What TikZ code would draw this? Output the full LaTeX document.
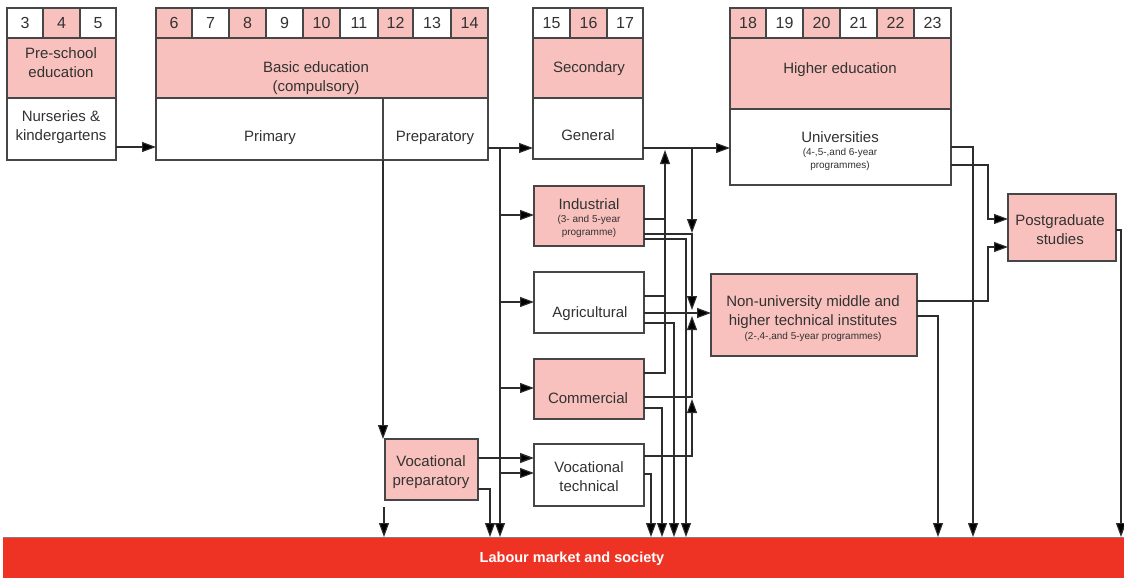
\documentclass[tikz,border=0pt]{standalone}
\usepackage{fontspec}
\setmainfont{Liberation Sans}
\usetikzlibrary{arrows.meta}
\definecolor{pk}{RGB}{249,193,189}
\definecolor{bd}{RGB}{70,70,70}
\definecolor{lm}{RGB}{238,50,36}
\definecolor{wirec}{RGB}{45,45,45}
\definecolor{tc}{RGB}{50,50,50}
\newcommand\bx[6]{\node[#6, anchor=north west, minimum width={#4-#2}, minimum height={#5-#3}] (#1) at (#2,#3) {};}
\begin{document}
\begin{tikzpicture}[x=1pt,y=-1pt,
  box/.style={draw=bd, line width=1.3pt, outer sep=0pt, inner sep=0pt},
  pbox/.style={box, fill=pk},
  wbox/.style={box, fill=white},
  txt/.style={align=center, font=\fontsize{15}{19}\selectfont, text=tc, inner sep=0pt},
  sml/.style={align=center, font=\fontsize{10}{13}\selectfont, text=tc, inner sep=0pt},
  num/.style={font=\fontsize{16}{19}\selectfont, text=tc, inner sep=0pt},
  arr/.style={draw=wirec, line width=1.1pt, -{Triangle[length=14pt,width=10pt,fill=black]}},
  wire/.style={draw=wirec, line width=1.1pt},
]
\useasboundingbox (0,0) rectangle (1124,578);
\fill[white] (0,0) rectangle (1124,578);

% age cells
\foreach \xa/\xb/\n/\f in {7/43/3/white,43/80/4/pk,80/116/5/white,156/192/6/pk,192/229/7/white,229/266/8/pk,266/303/9/white,303/340/10/pk,340/378/11/white,378/413/12/pk,413/451/13/white,451/488/14/pk,533/570/15/white,570/607/16/pk,607/643/17/white,730/766/18/pk,766/803/19/white,803/840/20/pk,840/877/21/white,877/914/22/pk,914/951/23/white}{
  \draw[draw=bd, line width=1.3pt, fill=\f] (\xa,8) rectangle (\xb,38);
  \node[num] (c\n) at ({(\xa+\xb)/2},23) {\n};
}

% boxes
\bx{psh}{7}{38}{116}{98}{pbox}
\bx{nurs}{7}{98}{116}{160}{wbox}
\bx{bas}{156}{38}{488}{98}{pbox}
\bx{prim}{156}{98}{383}{160}{wbox}
\bx{prep}{383}{98}{488}{160}{wbox}
\bx{sec}{533}{38}{643}{98}{pbox}
\bx{gen}{533}{98}{643}{159}{wbox}
\bx{high}{730}{38}{951}{109}{pbox}
\bx{univ}{730}{109}{951}{185}{wbox}
\bx{ind}{534}{186}{644}{246}{pbox}
\bx{agr}{534}{272}{644}{333}{wbox}
\bx{com}{534}{359}{644}{419}{pbox}
\bx{vt}{534}{444}{644}{506}{wbox}
\bx{vp}{385}{439}{478}{500}{pbox}
\bx{nu}{711}{274}{917}{356}{pbox}
\bx{pg}{1008}{194}{1116}{261}{pbox}
\node[fill=lm, anchor=north west, minimum width=1121, minimum height=41, inner sep=0pt, outer sep=0pt] (lab) at (3,537) {};
\draw[gray, line width=0.8pt] (lab.north west) -- (lab.north east);

% texts
\node[txt] (t-psh) at (61,63) {Pre-school\\education};
\node[txt] (t-nurs) at (61,127) {Nurseries \&\\kindergartens};
\node[txt] (t-bas) at (316,78) {Basic education\\(compulsory)};
\node[txt] (t-prim) at (270,138) {Primary};
\node[txt] (t-prep) at (435,138) {Preparatory};
\node[txt] (t-sec) at (589,69) {Secondary};
\node[txt] (t-gen) at (588,135) {General};
\node[txt] (t-high) at (840,70) {Higher education};
\node[txt] (t-univ) at (840,137) {Universities};
\node[sml] (s-univ) at (840,159) {(4-,5-,and 6-year\\programmes)};
\node[txt] (t-ind) at (589,204) {Industrial};
\node[sml] (s-ind) at (589,226) {(3- and 5-year\\programme)};
\node[txt] (t-agr) at (590,314) {Agricultural};
\node[txt] (t-com) at (588,398) {Commercial};
\node[txt] (t-vt) at (589,477) {Vocational\\technical};
\node[txt] (t-vp) at (431,472) {Vocational\\preparatory};
\node[txt] (t-nu) at (813,312) {Non-university middle and\\higher technical institutes};
\node[sml] (s-nu) at (813,337) {(2-,4-,and 5-year programmes)};
\node[txt] (t-pg) at (1060,230) {Postgraduate\\studies};
\node[font=\fontsize{14.5}{17}\selectfont\bfseries, text=white, inner sep=0pt] (t-lab) at (572,559) {Labour market and society};

% connectors
\draw[arr] (nurs.east |- 0,147) -- (prim.west |- 0,147);
\draw[arr] (prep.east |- 0,148) -- (gen.west |- 0,148);
\coordinate (tr) at (500,148);
\draw[arr] (tr) -- (tr |- lab.north);
\draw[arr] (500,215) -- (ind.west |- 0,215);
\draw[arr] (500,302) -- (agr.west |- 0,302);
\draw[arr] (500,388) -- (com.west |- 0,388);
\draw[arr] (500,473) -- (vt.west |- 0,473);
\draw[arr] (prim.south east) -- (prim.south east |- vp.north);
\coordinate (stub) at (384,507);
\draw[arr] (stub) -- (stub |- lab.north);
\draw[arr, line width=1.4pt] (vp.east |- 0,458) -- (vt.west |- 0,458);
\draw[arr] (vp.east |- 0,489) -| (490,0 |- lab.north);

\draw[arr] (gen.east |- 0,148) -- (univ.west |- 0,148);
\draw[arr] (com.east |- 0,373) -| (665,150);
\draw[wire] (ind.east |- 0,219) -- (665,219);
\draw[wire] (agr.east |- 0,296) -- (665,296);
\draw[arr] (692,148) -- (692,233);
\draw[arr] (ind.east |- 0,234) -| (692,310);
\draw[arr] (agr.east |- 0,313) -- (nu.west |- 0,313);
\draw[arr] (com.east |- 0,397) -| (692,316);
\draw[arr] (vt.east |- 0,456) -| (692,399);
\draw[arr] (ind.east |- 0,239) -| (686,0 |- lab.north);
\draw[arr] (agr.east |- 0,323) -| (674,0 |- lab.north);
\draw[arr] (com.east |- 0,408) -| (662,0 |- lab.north);
\draw[arr] (vt.east |- 0,474) -| (651,0 |- lab.north);

\draw[arr] (univ.east |- 0,147) -| (973,0 |- lab.north);
\draw[arr] (univ.east |- 0,165) -| (988,219) -- (pg.west |- 0,219);
\draw[arr] (nu.east |- 0,301) -| (988,247) -- (pg.west |- 0,247);
\draw[arr] (nu.east |- 0,316) -| (938,0 |- lab.north);
\draw[arr] (pg.east |- 0,230) -| (1121,0 |- lab.north);
\end{tikzpicture}
\end{document}
